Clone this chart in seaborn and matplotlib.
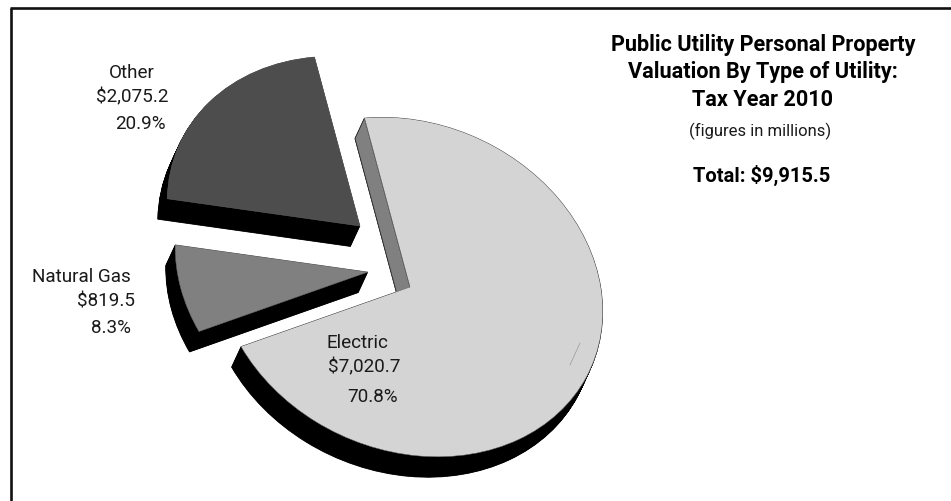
import numpy as np
import matplotlib
matplotlib.use("Agg")
import matplotlib.pyplot as plt
from matplotlib.patches import Polygon
from matplotlib.transforms import Affine2D
import seaborn as sns

categories = ["Electric", "Natural Gas", "Other"]
values = [7020.7, 819.5, 2075.2]
value_labels = ["$7,020.7", "$819.5", "$2,075.2"]
share_labels = ["70.8%", "8.3%", "20.9%"]
total_label = "Total: $9,915.5"
title_lines = ["Public Utility Personal Property",
               "Valuation By Type of Utility:",
               "Tax Year 2010"]
subtitle = "(figures in millions)"
top_colors = ["#d4d4d4", "#808080", "#4d4d4d"]

sns.set_theme(style="white")
plt.rcParams["font.family"] = ["Roboto", "DejaVu Sans"]

W, H = 951, 501
fig = plt.figure(figsize=(W / 100, H / 100), dpi=100)
ax = fig.add_axes([0, 0, 1, 1])

START = 90.0
# Tilted-disc projection: sends the unit circle to the slanted ellipse in pixels.
share = np.array(values) / sum(values)
a1 = np.deg2rad(START)
a2 = np.deg2rad(START - 360 * share[0])
unit = np.array([[np.cos(a1), np.cos(a2)], [np.sin(a1), np.sin(a2)]])
edges = np.array([[-45.5, -169.0], [-169.0, 59.5]])
tilt = edges @ np.linalg.inv(unit)

# Where each slice's point sits after being pulled out of the disc.
apexes = [(410, 287), (368, 272), (360, 226)]
depth = np.array([-9.5, 20.5])


def slice_transform(i, lift=0.0):
    m = np.eye(3)
    m[:2, :2] = tilt
    shift = np.array(apexes[i]) + depth * lift
    return Affine2D(m).translate(*shift) + ax.transData


def draw_pie(colors, lift, edge, width):
    wedges, _ = ax.pie(values, colors=colors, startangle=START, counterclock=False,
                       wedgeprops=dict(edgecolor=edge, linewidth=width))
    for i, w in enumerate(wedges):
        w.set_transform(slice_transform(i, lift))
    return wedges


# Extruded black body, built up from stacked layers.
for lift in np.linspace(1, 0.02, 40):
    draw_pie(["black"] * 3, lift, "black", 0.5)

ax.set_xlim(0, W)
ax.set_ylim(H, 0)
ax.set_aspect("auto")

# Grey cut face along the Electric slice's leading edge.
apex = np.array(apexes[0], float)
rim = apex + edges[:, 0]
ax.add_patch(Polygon([apex, rim, rim + depth, apex + depth], closed=True,
                     facecolor="#808080", edgecolor="#333333", linewidth=0.6, zorder=2))

# Top faces of the slices.
for w in draw_pie(top_colors, 0.0, "#666666", 0.35):
    w.set_zorder(3)

ax.plot([570, 580], [365, 343], color="#9a9a9a", lw=0.5, zorder=4)

ax.set_xlim(0, W)
ax.set_ylim(H, 0)
ax.set_aspect("auto")
ax.axis("off")

# Frame: only the top and left rules are drawn.
ax.plot([11.2, 11.2], [8, H], color="#111111", lw=1.9, solid_capstyle="butt", zorder=6)
ax.plot([10, W], [8.2, 8.2], color="#111111", lw=1.9, solid_capstyle="butt", zorder=6)

LABEL_PT = 13.6
ink = "#1a1a1a"
label_style = dict(ha="center", va="center", fontsize=LABEL_PT, color=ink, zorder=7)
ax.text(357, 343, categories[0], **label_style)
ax.text(364.5, 367, value_labels[0], **label_style)
ax.text(373, 397, share_labels[0], **label_style)
ax.text(81.5, 277, categories[1], **label_style)
ax.text(106.5, 302, value_labels[1], **label_style)
ax.text(111.5, 328, share_labels[1], **label_style)
ax.text(131.5, 73, categories[2], **label_style)
ax.text(132, 97, value_labels[2], **label_style)
ax.text(140.5, 124, share_labels[2], **label_style)

for line, y in zip(title_lines, [45, 72, 100]):
    ax.text(763, y, line, ha="center", va="center", fontsize=15.6, fontweight="bold", color="black")
ax.text(760, 131, subtitle, ha="center", va="center", fontsize=12, color=ink)
ax.text(762, 175, total_label, ha="center", va="center", fontsize=14.5, fontweight="bold", color="black")

fig.savefig("out.png", dpi=100, facecolor="white")
